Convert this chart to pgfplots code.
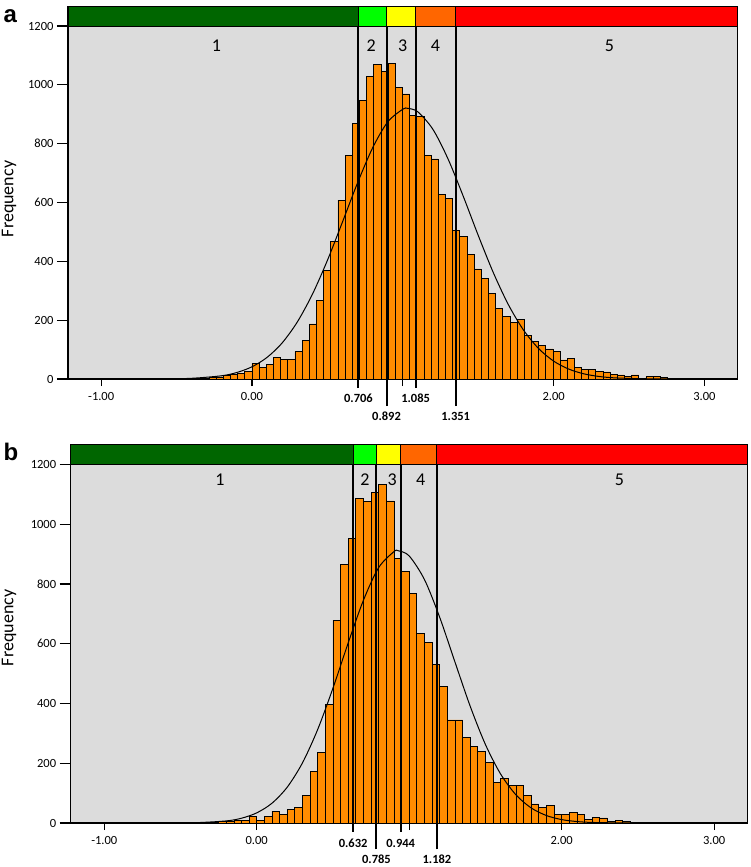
\documentclass[border=0pt]{standalone}
\usepackage{pgfplots}
\pgfplotsset{compat=1.18}
\usepackage{fontspec}
\setmainfont{Carlito}
\newfontfamily\arialfont{Liberation Sans}
\definecolor{bggray}{RGB}{220,220,220}
\definecolor{barorange}{RGB}{255,140,0}
\definecolor{dgreen}{RGB}{0,102,0}
\definecolor{lgreen}{RGB}{0,255,0}
\definecolor{yel}{RGB}{255,255,0}
\definecolor{oran}{RGB}{255,102,0}
\definecolor{rd}{RGB}{255,0,0}

\pgfplotstableread{
x y
-0.4750 1
-0.4275 1
-0.3800 2
-0.3325 3
-0.2850 4
-0.2375 7
-0.1900 11
-0.1425 15
-0.0950 20
-0.0475 25
0.0000 52
0.0475 40
0.0950 51
0.1425 74
0.1900 67
0.2375 67
0.2850 93
0.3325 130
0.3800 187
0.4275 268
0.4750 368
0.5225 469
0.5700 608
0.6175 761
0.6650 869
0.7125 946
0.7600 1028
0.8075 1070
0.8550 1045
0.9025 1073
0.9500 990
0.9975 969
1.0450 897
1.0925 892
1.1400 759
1.1875 748
1.2350 628
1.2825 614
1.3300 504
1.3775 486
1.4250 424
1.4725 374
1.5200 342
1.5675 291
1.6150 240
1.6625 212
1.7100 193
1.7575 203
1.8050 148
1.8525 127
1.9000 113
1.9475 102
1.9950 94
2.0425 65
2.0900 69
2.1375 39
2.1850 34
2.2325 34
2.2800 26
2.3275 24
2.3750 17
2.4225 14
2.4700 8
2.5175 14
2.5650 3
2.6125 8
2.6600 8
2.7075 6
2.7550 3
2.8025 1
2.8500 3
2.8975 1
2.9450 0
}\histA

\pgfplotstableread{
x y
-0.40 1
-0.35 2
-0.30 3
-0.25 4
-0.20 6
-0.15 9
-0.10 10
-0.05 21
0.00 10
0.05 21
0.10 40
0.15 30
0.20 45
0.25 52
0.30 92
0.35 174
0.40 237
0.45 397
0.50 678
0.55 864
0.60 953
0.65 1085
0.70 1076
0.75 1106
0.80 1132
0.85 1078
0.90 886
0.95 842
1.00 767
1.05 635
1.10 605
1.15 532
1.20 457
1.25 345
1.30 345
1.35 286
1.40 256
1.45 239
1.50 203
1.55 136
1.60 150
1.65 125
1.70 126
1.75 93
1.80 64
1.85 52
1.90 58
1.95 30
2.00 28
2.05 35
2.10 28
2.15 13
2.20 19
2.25 17
2.30 4
2.35 10
2.40 4
2.45 2
2.50 2
2.55 2
2.60 1
2.65 1
2.70 2
2.75 1
2.80 1
2.85 2
2.90 1
2.95 0
}\histB

\pgfplotsset{
  histo/.style={
    scale only axis,
    xmin=-1.22, xmax=3.22, ymin=0,
    axis background/.style={fill=bggray},
    axis line style={line width=1.3pt},
    ytick={0,200,...,1200},
    xtick=\empty,
    extra x ticks={-1,0,1,2,3},
    extra x tick labels={-1.00,0.00,,2.00,3.00},
    extra x tick style={major tick length=7pt},
    major tick length=11pt,
    tick align=outside,
    xtick pos=bottom, ytick pos=left,
    tick style={line width=1.1pt, black},
    tick label style={font=\fontsize{12.5}{13}\selectfont},
    xticklabel style={yshift=-3pt},
    /pgf/number format/assume math mode=true,
    /pgf/number format/set thousands separator={},
    clip=false,
  },
}
\tikzset{
  cutlab/.style={font=\fontsize{12.5}{13}\selectfont\bfseries, anchor=center, inner sep=0.5pt},
  reglab/.style={font=\fontsize{18}{19}\selectfont, anchor=center},
}

\begin{document}
\begin{tikzpicture}
\path[use as bounding box] (0pt,0pt) rectangle (750pt,-867pt);

% ---------------- panel a ----------------
\begin{axis}[histo, width=669.6pt, height=372pt, at={(68pt,-379pt)}, anchor=south west, ymax=1264.6]
\addplot[ybar interval, fill=barorange, draw=black, line width=0.7pt] table[x=x,y=y] {\histA};
\addplot[black, line width=1pt, smooth] coordinates {
(-0.8,0.05) (-0.6,0.4) (-0.4,2.4) (-0.2,11.1) (-0.1,22.2) (0,41.5) (0.1,73.5) (0.2,122.7) (0.3,193.4) (0.4,287.5) (0.5,403.2) (0.6,533.8) (0.7,666.8) (0.8,785.9) (0.9,873.9) (1.0,917.1) (1.033,920) (1.1,908.1) (1.2,848.4) (1.3,748.0) (1.4,622.3) (1.5,488.4) (1.6,361.8) (1.7,252.8) (1.8,166.7) (1.9,103.8) (2.0,60.9) (2.1,33.8) (2.2,17.6) (2.3,8.7) (2.4,4.05) (2.6,0.74) (2.8,0.1) (3.0,0.01)};
% cut lines
\addplot[black, line width=2pt] coordinates {(0.706,-30.6) (0.706,1264.6)};
\addplot[black, line width=2pt] coordinates {(0.892,-92) (0.892,1264.6)};
\addplot[black, line width=2pt] coordinates {(1.085,-30.6) (1.085,1264.6)};
\addplot[black, line width=2pt] coordinates {(1.351,-92) (1.351,1264.6)};
% colour bands
\addplot[fill=dgreen, draw=black, line width=1pt] coordinates {(-1.22,1200) (0.706,1200) (0.706,1264.6) (-1.22,1264.6)} -- cycle;
\addplot[fill=lgreen, draw=black, line width=1pt] coordinates {(0.706,1200) (0.892,1200) (0.892,1264.6) (0.706,1264.6)} -- cycle;
\addplot[fill=yel, draw=black, line width=1pt] coordinates {(0.892,1200) (1.085,1200) (1.085,1264.6) (0.892,1264.6)} -- cycle;
\addplot[fill=oran, draw=black, line width=1pt] coordinates {(1.085,1200) (1.351,1200) (1.351,1264.6) (1.085,1264.6)} -- cycle;
\addplot[fill=rd, draw=black, line width=1pt] coordinates {(1.351,1200) (3.22,1200) (3.22,1264.6) (1.351,1264.6)} -- cycle;
\node[reglab] at (axis cs:-0.235,1132) {1};
\node[reglab] at (axis cs:0.79,1132) {2};
\node[reglab] at (axis cs:1.0,1132) {3};
\node[reglab] at (axis cs:1.217,1132) {4};
\node[reglab] at (axis cs:2.37,1132) {5};
\node[cutlab] at ([yshift=-19.5pt]axis cs:0.706,0) {0.706};
\node[cutlab] at ([yshift=-37.5pt]axis cs:0.892,0) {0.892};
\node[cutlab] at ([yshift=-19.5pt]axis cs:1.085,0) {1.085};
\node[cutlab] at ([yshift=-37.5pt]axis cs:1.351,0) {1.351};
\node[rotate=90, font=\fontsize{18}{19}\selectfont] at ([xshift=-59pt,yshift=-6pt]rel axis cs:0,0.5) {Frequency};
\end{axis}

% ---------------- panel b ----------------
\begin{axis}[histo, width=677pt, height=378.3pt, at={(70.7pt,-823pt)}, anchor=south west, ymax=1266]
\addplot[ybar interval, fill=barorange, draw=black, line width=0.7pt] table[x=x,y=y] {\histB};
\addplot[black, line width=1pt, smooth] coordinates {
(-0.8,0.01) (-0.6,0.12) (-0.4,1.08) (-0.2,7.0) (-0.1,16.0) (0,33.9) (0.1,66.2) (0.2,119.9) (0.3,201.3) (0.4,313.2) (0.5,451.4) (0.6,602.8) (0.7,745.7) (0.8,855.0) (0.9,908.1) (0.929,911) (1.0,893.7) (1.1,814.8) (1.2,688.4) (1.3,538.9) (1.4,390.8) (1.5,262.6) (1.6,163.5) (1.7,94.3) (1.8,50.4) (1.9,25.0) (2.0,11.4) (2.1,4.9) (2.2,1.9) (2.4,0.24) (2.6,0.02) (2.8,0) (3.0,0)};
\addplot[black, line width=2pt] coordinates {(0.632,-29) (0.632,1266)};
\addplot[black, line width=2pt] coordinates {(0.785,-88) (0.785,1266)};
\addplot[black, line width=2pt] coordinates {(0.944,-29) (0.944,1266)};
\addplot[black, line width=2pt] coordinates {(1.182,-88) (1.182,1266)};
\addplot[fill=dgreen, draw=black, line width=1pt] coordinates {(-1.22,1200) (0.632,1200) (0.632,1266) (-1.22,1266)} -- cycle;
\addplot[fill=lgreen, draw=black, line width=1pt] coordinates {(0.632,1200) (0.785,1200) (0.785,1266) (0.632,1266)} -- cycle;
\addplot[fill=yel, draw=black, line width=1pt] coordinates {(0.785,1200) (0.944,1200) (0.944,1266) (0.785,1266)} -- cycle;
\addplot[fill=oran, draw=black, line width=1pt] coordinates {(0.944,1200) (1.182,1200) (1.182,1266) (0.944,1266)} -- cycle;
\addplot[fill=rd, draw=black, line width=1pt] coordinates {(1.182,1200) (3.22,1200) (3.22,1266) (1.182,1266)} -- cycle;
\node[reglab] at (axis cs:-0.241,1149) {1};
\node[reglab] at (axis cs:0.71,1149) {2};
\node[reglab] at (axis cs:0.889,1149) {3};
\node[reglab] at (axis cs:1.075,1149) {4};
\node[reglab] at (axis cs:2.378,1149) {5};
\node[cutlab] at ([yshift=-20pt]axis cs:0.632,0) {0.632};
\node[cutlab] at ([yshift=-36.5pt]axis cs:0.785,0) {0.785};
\node[cutlab] at ([yshift=-20pt]axis cs:0.944,0) {0.944};
\node[cutlab] at ([yshift=-36.5pt]axis cs:1.182,0) {1.182};
\node[rotate=90, font=\fontsize{18}{19}\selectfont] at ([xshift=-61.7pt,yshift=6pt]rel axis cs:0,0.5) {Frequency};
\end{axis}

\node[anchor=base west, font=\arialfont\bfseries\fontsize{24}{24}\selectfont] at (0pt,-23pt) {a};
\node[anchor=base west, font=\arialfont\bfseries\fontsize{24}{24}\selectfont] at (0pt,-460pt) {b};
\end{tikzpicture}
\end{document}
